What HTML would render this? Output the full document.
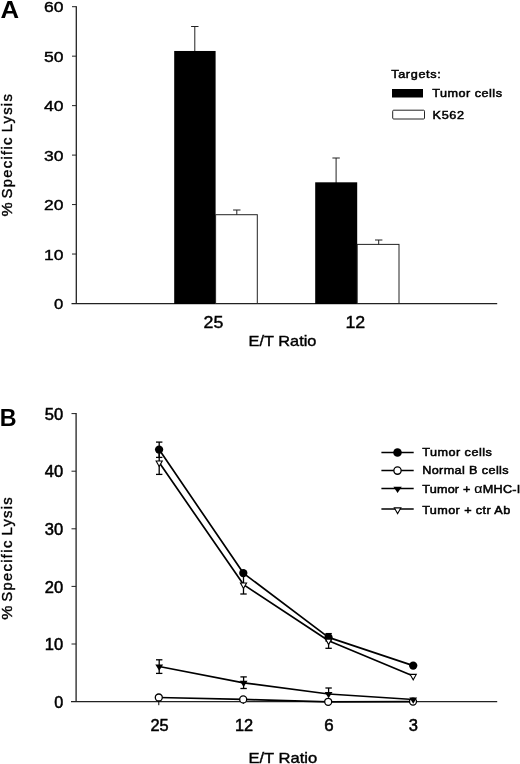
<!DOCTYPE html>
<html><head><meta charset="utf-8"><title>Figure</title>
<style>
html,body{margin:0;padding:0;background:#fff;}
svg{display:block;font-family:"Liberation Sans", Arial, Helvetica, sans-serif;fill:#000;filter:grayscale(1) blur(0.4px);}
</style></head>
<body>
<svg width="520" height="764" viewBox="0 0 520 764">
<rect width="520" height="764" fill="#fff"/>
<line x1="76.3" y1="6.2" x2="76.3" y2="304.0" stroke="#222" stroke-width="1.3" />
<line x1="71.5" y1="303.5" x2="497.2" y2="303.5" stroke="#222" stroke-width="1.25" />
<text x="63.4" y="309.1" font-size="15.2" font-weight="normal" text-anchor="end" stroke="#000" stroke-width="0.4" textLength="9.3" lengthAdjust="spacingAndGlyphs" >0</text>
<line x1="72" y1="254.03333333333333" x2="76.3" y2="254.03333333333333" stroke="#222" stroke-width="1" />
<text x="63.4" y="259.63" font-size="15.2" font-weight="normal" text-anchor="end" stroke="#000" stroke-width="0.4" textLength="19.5" lengthAdjust="spacingAndGlyphs" >10</text>
<line x1="72" y1="204.56666666666666" x2="76.3" y2="204.56666666666666" stroke="#222" stroke-width="1" />
<text x="63.4" y="210.17" font-size="15.2" font-weight="normal" text-anchor="end" stroke="#000" stroke-width="0.4" textLength="19.5" lengthAdjust="spacingAndGlyphs" >20</text>
<line x1="72" y1="155.1" x2="76.3" y2="155.1" stroke="#222" stroke-width="1" />
<text x="63.4" y="160.7" font-size="15.2" font-weight="normal" text-anchor="end" stroke="#000" stroke-width="0.4" textLength="19.5" lengthAdjust="spacingAndGlyphs" >30</text>
<line x1="72" y1="105.63333333333333" x2="76.3" y2="105.63333333333333" stroke="#222" stroke-width="1" />
<text x="63.4" y="111.23" font-size="15.2" font-weight="normal" text-anchor="end" stroke="#000" stroke-width="0.4" textLength="19.5" lengthAdjust="spacingAndGlyphs" >40</text>
<line x1="72" y1="56.16666666666663" x2="76.3" y2="56.16666666666663" stroke="#222" stroke-width="1" />
<text x="63.4" y="61.77" font-size="15.2" font-weight="normal" text-anchor="end" stroke="#000" stroke-width="0.4" textLength="19.5" lengthAdjust="spacingAndGlyphs" >50</text>
<line x1="72" y1="6.699999999999989" x2="76.3" y2="6.699999999999989" stroke="#222" stroke-width="1" />
<text x="63.4" y="12.3" font-size="14.9" font-weight="normal" text-anchor="end" stroke="#000" stroke-width="0.4" textLength="19.5" lengthAdjust="spacingAndGlyphs" >60</text>
<line x1="194.8" y1="26.5" x2="194.8" y2="52" stroke="#222" stroke-width="1" />
<line x1="191.10000000000002" y1="26.5" x2="198.5" y2="26.5" stroke="#222" stroke-width="1" />
<line x1="236.8" y1="210" x2="236.8" y2="215" stroke="#222" stroke-width="1" />
<line x1="233.10000000000002" y1="210" x2="240.5" y2="210" stroke="#222" stroke-width="1" />
<line x1="336.1" y1="158" x2="336.1" y2="183" stroke="#222" stroke-width="1" />
<line x1="332.40000000000003" y1="158" x2="339.8" y2="158" stroke="#222" stroke-width="1" />
<line x1="378.7" y1="240" x2="378.7" y2="245" stroke="#222" stroke-width="1" />
<line x1="375.0" y1="240" x2="382.4" y2="240" stroke="#222" stroke-width="1" />
<rect x="174.2" y="50.97" width="41.400000000000006" height="253.03" fill="#000"/>
<rect x="215.6" y="214.71" width="41.70000000000002" height="88.79" fill="#fff" stroke="#222" stroke-width="1"/>
<rect x="315.2" y="182.31" width="42.0" height="121.69" fill="#000"/>
<rect x="357.2" y="244.39" width="41.80000000000001" height="59.11" fill="#fff" stroke="#222" stroke-width="1"/>
<text x="203.6" y="327.7" font-size="16.2" font-weight="normal" text-anchor="start" stroke="#000" stroke-width="0.4" textLength="19.8" lengthAdjust="spacingAndGlyphs" >25</text>
<text x="345.4" y="327.7" font-size="16.2" font-weight="normal" text-anchor="start" stroke="#000" stroke-width="0.4" textLength="19.8" lengthAdjust="spacingAndGlyphs" >12</text>
<text x="248.6" y="346.3" font-size="15" font-weight="normal" text-anchor="start" stroke="#000" stroke-width="0.4" textLength="67.8" lengthAdjust="spacingAndGlyphs" >E/T Ratio</text>
<text transform="translate(12.3,216.6) rotate(-90)" font-size="14.8" stroke="#000" stroke-width="0.4" textLength="14.2" lengthAdjust="spacingAndGlyphs">%</text>
<text transform="translate(12.3,198.5) rotate(-90)" font-size="14.8" stroke="#000" stroke-width="0.4" textLength="61.0" lengthAdjust="spacing">Specific</text>
<text transform="translate(12.3,132.3) rotate(-90)" font-size="14.8" stroke="#000" stroke-width="0.4" textLength="38.1" lengthAdjust="spacing">Lysis</text>
<text x="0.4" y="18.3" font-size="24" font-weight="bold" text-anchor="start" stroke="#000" stroke-width="0" textLength="18.6" lengthAdjust="spacingAndGlyphs" >A</text>
<text transform="translate(391.2,78.1) scale(1.1,1)" font-size="11.5" font-weight="normal" text-anchor="start" stroke="#000" stroke-width="0.5" textLength="45.09" lengthAdjust="spacing" >Targets:</text>
<rect x="392" y="89" width="31" height="8.5" fill="#000"/>
<text transform="translate(432.2,97.3) scale(1.1,1)" font-size="11.5" font-weight="normal" text-anchor="start" stroke="#000" stroke-width="0.5" textLength="63.45" lengthAdjust="spacing" >Tumor cells</text>
<rect x="392.7" y="110.2" width="31.8" height="8.8" fill="#fff" stroke="#222" stroke-width="1" rx="1"/>
<text transform="translate(432.6,119) scale(1.1,1)" font-size="11.5" font-weight="normal" text-anchor="start" stroke="#000" stroke-width="0.5" textLength="28.55" lengthAdjust="spacing" >K562</text>
<line x1="76.1" y1="413.1" x2="76.1" y2="702.1" stroke="#222" stroke-width="1.3" />
<line x1="71" y1="701.6" x2="497.2" y2="701.6" stroke="#222" stroke-width="1.3" />
<text x="63.2" y="707.7" font-size="15.6" font-weight="normal" text-anchor="end" stroke="#000" stroke-width="0.5" textLength="9.0" lengthAdjust="spacingAndGlyphs" >0</text>
<line x1="71.5" y1="644.0" x2="76.1" y2="644.0" stroke="#222" stroke-width="1" />
<text x="63.2" y="650.1" font-size="15.6" font-weight="normal" text-anchor="end" stroke="#000" stroke-width="0.5" textLength="18.4" lengthAdjust="spacingAndGlyphs" >10</text>
<line x1="71.5" y1="586.4000000000001" x2="76.1" y2="586.4000000000001" stroke="#222" stroke-width="1" />
<text x="63.2" y="592.5" font-size="15.6" font-weight="normal" text-anchor="end" stroke="#000" stroke-width="0.5" textLength="18.4" lengthAdjust="spacingAndGlyphs" >20</text>
<line x1="71.5" y1="528.8000000000001" x2="76.1" y2="528.8000000000001" stroke="#222" stroke-width="1" />
<text x="63.2" y="534.9" font-size="15.6" font-weight="normal" text-anchor="end" stroke="#000" stroke-width="0.5" textLength="18.4" lengthAdjust="spacingAndGlyphs" >30</text>
<line x1="71.5" y1="471.20000000000005" x2="76.1" y2="471.20000000000005" stroke="#222" stroke-width="1" />
<text x="63.2" y="477.3" font-size="15.6" font-weight="normal" text-anchor="end" stroke="#000" stroke-width="0.5" textLength="18.4" lengthAdjust="spacingAndGlyphs" >40</text>
<line x1="71.5" y1="413.6" x2="76.1" y2="413.6" stroke="#222" stroke-width="1" />
<text x="63.2" y="419.7" font-size="15.6" font-weight="normal" text-anchor="end" stroke="#000" stroke-width="0.5" textLength="18.4" lengthAdjust="spacingAndGlyphs" >50</text>
<polyline fill="none" stroke="#000" stroke-width="1.7" stroke-linejoin="round" points="159.1,449.6 243.3,573.1 328.5,637.4 413.2,665.6"/>
<line x1="159.2" y1="442.1" x2="159.2" y2="457.4" stroke="#000" stroke-width="1.3" />
<line x1="156.0" y1="442.1" x2="162.39999999999998" y2="442.1" stroke="#000" stroke-width="1.3" />
<line x1="156.0" y1="457.4" x2="162.39999999999998" y2="457.4" stroke="#000" stroke-width="1.3" />
<line x1="328.6" y1="633.6" x2="328.6" y2="641.0" stroke="#000" stroke-width="1.3" />
<line x1="325.40000000000003" y1="633.6" x2="331.8" y2="633.6" stroke="#000" stroke-width="1.3" />
<line x1="325.40000000000003" y1="641.0" x2="331.8" y2="641.0" stroke="#000" stroke-width="1.3" />
<circle cx="159.1" cy="449.6" r="4.15" fill="#000"/>
<circle cx="243.3" cy="573.1" r="4.15" fill="#000"/>
<circle cx="328.5" cy="637.4" r="4.15" fill="#000"/>
<circle cx="413.2" cy="665.6" r="4.15" fill="#000"/>
<polyline fill="none" stroke="#000" stroke-width="1.7" stroke-linejoin="round" points="158.8,697.5 243.2,699.4 328.2,701.8 413.0,701.6"/>
<line x1="158.8" y1="701" x2="158.8" y2="705.2" stroke="#000" stroke-width="1" />
<line x1="243.3" y1="701" x2="243.3" y2="704.0" stroke="#000" stroke-width="1" />
<circle cx="158.8" cy="697.5" r="3.5000000000000004" fill="#fff" stroke="#000" stroke-width="1.3"/>
<circle cx="243.2" cy="699.4" r="3.5000000000000004" fill="#fff" stroke="#000" stroke-width="1.3"/>
<circle cx="328.2" cy="701.8" r="3.5000000000000004" fill="#fff" stroke="#000" stroke-width="1.3"/>
<circle cx="413.0" cy="701.6" r="3.5000000000000004" fill="#fff" stroke="#000" stroke-width="1.3"/>
<polyline fill="none" stroke="#000" stroke-width="1.7" stroke-linejoin="round" points="159.2,666.5 243.6,682.8 328.6,694.0 413.2,699.5"/>
<line x1="159.2" y1="659.8" x2="159.2" y2="673.4" stroke="#000" stroke-width="1.3" />
<line x1="156.0" y1="659.8" x2="162.39999999999998" y2="659.8" stroke="#000" stroke-width="1.3" />
<line x1="156.0" y1="673.4" x2="162.39999999999998" y2="673.4" stroke="#000" stroke-width="1.3" />
<line x1="243.6" y1="676.9" x2="243.6" y2="688.5" stroke="#000" stroke-width="1.3" />
<line x1="240.4" y1="676.9" x2="246.79999999999998" y2="676.9" stroke="#000" stroke-width="1.3" />
<line x1="240.4" y1="688.5" x2="246.79999999999998" y2="688.5" stroke="#000" stroke-width="1.3" />
<line x1="328.6" y1="688.0" x2="328.6" y2="696" stroke="#000" stroke-width="1.3" />
<line x1="325.40000000000003" y1="688.0" x2="331.8" y2="688.0" stroke="#000" stroke-width="1.3" />
<polygon points="155.29999999999998,664.43 163.1,664.43 159.2,670.63" fill="#000"/>
<polygon points="239.7,680.73 247.5,680.73 243.6,686.93" fill="#000"/>
<polygon points="324.70000000000005,691.93 332.5,691.93 328.6,698.13" fill="#000"/>
<polygon points="409.3,697.43 417.09999999999997,697.43 413.2,703.63" fill="#000"/>
<polyline fill="none" stroke="#000" stroke-width="1.7" stroke-linejoin="round" points="159.2,462.6 243.5,584.6 328.6,640.7 413.2,676.0"/>
<line x1="159.2" y1="453.5" x2="159.2" y2="474.4" stroke="#000" stroke-width="1.3" />
<line x1="156.0" y1="474.4" x2="162.39999999999998" y2="474.4" stroke="#000" stroke-width="1.3" />
<line x1="243.5" y1="576.5" x2="243.5" y2="594.0" stroke="#000" stroke-width="1.3" />
<line x1="240.3" y1="594.0" x2="246.7" y2="594.0" stroke="#000" stroke-width="1.3" />
<line x1="328.6" y1="641" x2="328.6" y2="648.3" stroke="#000" stroke-width="1.3" />
<line x1="325.40000000000003" y1="648.3" x2="331.8" y2="648.3" stroke="#000" stroke-width="1.3" />
<polygon points="156.14,461.00 162.26,461.00 159.2,466.43" fill="#fff" stroke="#000" stroke-width="1.1" stroke-linejoin="miter"/>
<polygon points="240.44,583.00 246.56,583.00 243.5,588.43" fill="#fff" stroke="#000" stroke-width="1.1" stroke-linejoin="miter"/>
<polygon points="325.54,639.10 331.66,639.10 328.6,644.53" fill="#fff" stroke="#000" stroke-width="1.1" stroke-linejoin="miter"/>
<polygon points="410.14,674.40 416.26,674.40 413.2,679.83" fill="#fff" stroke="#000" stroke-width="1.1" stroke-linejoin="miter"/>
<text x="150.5" y="731.3" font-size="15.8" font-weight="normal" text-anchor="start" stroke="#000" stroke-width="0.5" textLength="18.2" lengthAdjust="spacingAndGlyphs" >25</text>
<text x="235.0" y="731.3" font-size="15.8" font-weight="normal" text-anchor="start" stroke="#000" stroke-width="0.5" textLength="18.2" lengthAdjust="spacingAndGlyphs" >12</text>
<text x="324.2" y="731.3" font-size="15.8" font-weight="normal" text-anchor="start" stroke="#000" stroke-width="0.5" textLength="9.4" lengthAdjust="spacingAndGlyphs" >6</text>
<text x="408.7" y="731.3" font-size="15.8" font-weight="normal" text-anchor="start" stroke="#000" stroke-width="0.5" textLength="9.2" lengthAdjust="spacingAndGlyphs" >3</text>
<text x="248.4" y="762.5" font-size="15" font-weight="normal" text-anchor="start" stroke="#000" stroke-width="0.4" textLength="68.8" lengthAdjust="spacingAndGlyphs" >E/T Ratio</text>
<text transform="translate(12.3,619.8) rotate(-90)" font-size="14.8" stroke="#000" stroke-width="0.4" textLength="14.2" lengthAdjust="spacingAndGlyphs">%</text>
<text transform="translate(12.3,601.7) rotate(-90)" font-size="14.8" stroke="#000" stroke-width="0.4" textLength="61.0" lengthAdjust="spacing">Specific</text>
<text transform="translate(12.3,535.5) rotate(-90)" font-size="14.8" stroke="#000" stroke-width="0.4" textLength="38.1" lengthAdjust="spacing">Lysis</text>
<text x="-0.3" y="425.8" font-size="24" font-weight="bold" text-anchor="start" stroke="#000" stroke-width="0" textLength="16.8" lengthAdjust="spacingAndGlyphs" >B</text>
<line x1="381.4" y1="452.5" x2="413.7" y2="452.5" stroke="#000" stroke-width="1.5" />
<circle cx="397.5" cy="452.5" r="4.3" fill="#000"/>
<text transform="translate(422.2,456.1) scale(1.1,1)" font-size="11.5" font-weight="normal" text-anchor="start" stroke="#000" stroke-width="0.5" textLength="63.27" lengthAdjust="spacing" >Tumor cells</text>
<line x1="381.4" y1="470.6" x2="413.7" y2="470.6" stroke="#000" stroke-width="1.5" />
<circle cx="397.5" cy="470.6" r="3.65" fill="#fff" stroke="#000" stroke-width="1.3"/>
<text transform="translate(422.2,474.2) scale(1.1,1)" font-size="11.5" font-weight="normal" text-anchor="start" stroke="#000" stroke-width="0.5" textLength="78.55" lengthAdjust="spacing" >Normal B cells</text>
<line x1="381.4" y1="488.5" x2="413.7" y2="488.5" stroke="#000" stroke-width="1.5" />
<polygon points="393.40000000000003,486.67 401.8,486.67 397.6,493.07" fill="#000"/>
<text transform="translate(422.2,492.9) scale(1.1,1)" font-size="11.5" font-weight="normal" text-anchor="start" stroke="#000" stroke-width="0.5" textLength="89.09" lengthAdjust="spacing" >Tumor + <tspan font-size="13" stroke-width="0.15">α</tspan>MHC-I</text>
<line x1="381.4" y1="509.0" x2="413.7" y2="509.0" stroke="#000" stroke-width="1.5" />
<polygon points="394.35,507.90 400.85,507.90 397.6,513.55" fill="#fff" stroke="#000" stroke-width="1.1" stroke-linejoin="miter"/>
<text transform="translate(422.2,513.8) scale(1.1,1)" font-size="11.5" font-weight="normal" text-anchor="start" stroke="#000" stroke-width="0.5" textLength="80.00" lengthAdjust="spacing" >Tumor + ctr Ab</text>
</svg>
</body></html>
